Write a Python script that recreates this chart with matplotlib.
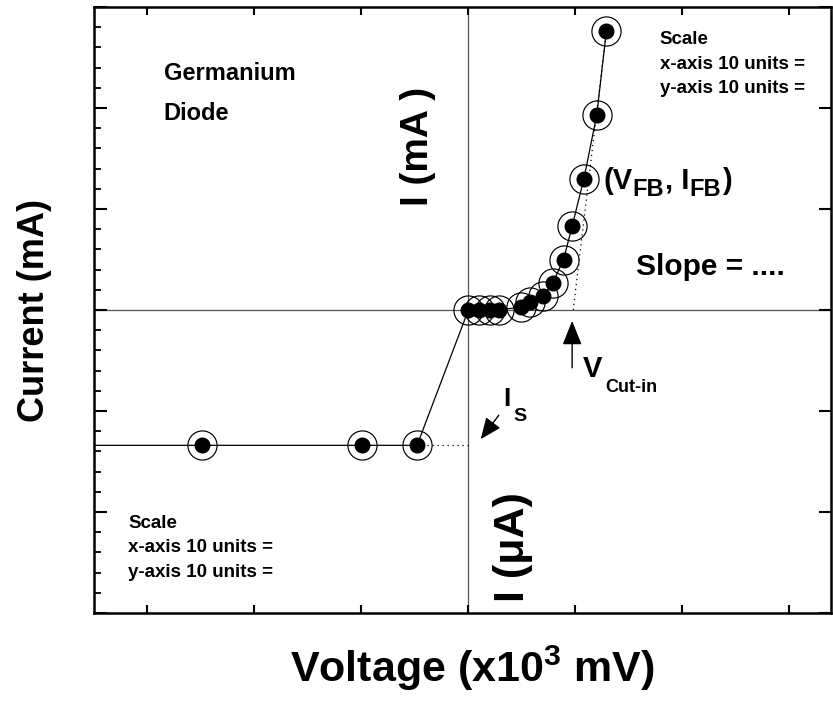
import matplotlib
matplotlib.use("Agg")
import matplotlib.pyplot as plt
import matplotlib.transforms as mtransforms
import numpy as np

# Data (Voltage in x10^3 mV units, Current in scaled units)
rev_v = [-2.49, -0.99, -0.48]
rev_i = [-1.34, -1.34, -1.34]
fwd_v = [0.0, 0.10, 0.20, 0.29, 0.49, 0.58, 0.70, 0.79, 0.89, 0.97, 1.08, 1.20, 1.29]
fwd_i = [0.0, 0.0, 0.0, 0.0, 0.03, 0.08, 0.14, 0.27, 0.50, 0.83, 1.30, 1.93, 2.76]
tangent_v = [0.98, 1.29]
tangent_i = [0.0, 2.76]
x_ticks = [-3, -2, -1, 0, 1, 2, 3]
y_ticks = [-3, -2, -1, 0, 1, 2, 3]
scale_lines = ['Scale', 'x-axis 10 units =', 'y-axis 10 units =']

plt.rcParams['font.family'] = ['Liberation Sans', 'DejaVu Sans']
plt.rcParams['font.weight'] = 'bold'
plt.rcParams['mathtext.fontset'] = 'custom'
plt.rcParams['mathtext.rm'] = 'Liberation Sans:bold'
plt.rcParams['mathtext.bf'] = 'Liberation Sans:bold'
plt.rcParams['mathtext.it'] = 'Liberation Sans:bold'
plt.rcParams['mathtext.default'] = 'rm'

fig = plt.figure(figsize=(8.33, 7.04), dpi=100)
ax = fig.add_axes([94/833, 1-613/704, (831-94)/833, (613-7)/704])
xmin, xmax = -3.5, 3.39
ax.set_xlim(xmin, xmax)
ax.set_ylim(-3, 3)

# zero lines
ax.axhline(0, color='#555555', lw=0.9, zorder=1)
ax.axvline(0, color='#555555', lw=0.9, zorder=1)

# connecting line
all_v = [xmin] + rev_v + fwd_v
all_i = [rev_i[0]] + rev_i + fwd_i
ax.plot(all_v, all_i, color='black', lw=0.9, zorder=2)
# dotted guides
ax.plot([rev_v[-1], 0], [rev_i[-1], rev_i[-1]], color='black', lw=0.9, ls=(0, (1, 3)), zorder=2)
ax.plot(tangent_v, tangent_i, color='black', lw=0.9, ls=(0, (1, 3)), zorder=2)

pts_v = rev_v + fwd_v
pts_i = rev_i + fwd_i
ax.plot(pts_v, pts_i, ls='none', marker='o', ms=21, mfc='none', mec='black', mew=0.85, zorder=3)
ax.plot(pts_v, pts_i, ls='none', marker='o', ms=10.5, mfc='black', mec='black', zorder=4)

# ticks
ax.set_xticks(x_ticks)
ax.set_yticks(y_ticks)
ax.set_yticks(np.arange(-3, 3.01, 0.2), minor=True)
ax.tick_params(axis='x', which='major', direction='in', top=True, bottom=True, length=6, width=1.5,
               labelbottom=False)
ax.tick_params(axis='y', which='major', direction='in', left=True, right=True, length=9, width=1.5,
               labelleft=False)
ax.tick_params(axis='y', which='minor', direction='in', left=True, right=False, length=5, width=1.3)
for s in ax.spines.values():
    s.set_linewidth(1.8)

fig.canvas.draw()
renderer = fig.canvas.get_renderer()


def chain_text(x, y, pieces, gap=0.0):
    """Place text pieces one after another starting at data (x, y) baseline."""
    dx = 0.0
    for txt, size, dy in pieces:
        tr = ax.transData + mtransforms.ScaledTranslation(dx / fig.dpi, dy / 72.0, fig.dpi_scale_trans)
        t = ax.text(x, y, txt, fontsize=size, fontweight='bold', va='baseline', ha='left', transform=tr)
        dx += t.get_window_extent(renderer).width + gap


# texts
ax.text(-2.85, 2.34, 'Germanium', fontsize=17, fontweight='bold', va='center', ha='left')
ax.text(-2.85, 1.95, 'Diode', fontsize=17, fontweight='bold', va='center', ha='left')
ax.text(-0.47, 1.62, 'I (mA )', fontsize=28, fontweight='bold', rotation=90, va='center', ha='center')
ax.text(0.42, -2.35, 'I (μA)', fontsize=31, fontweight='bold', rotation=90, va='center', ha='center')
chain_text(1.26, 1.20, [('(V', 21, 0), ('FB', 17, -5), (', I', 21, 0), ('FB', 17, -5), (')', 21, 0)],
           gap=0.5)
ax.text(1.57, 0.43, 'Slope = ....', fontsize=21.5, fontweight='bold', va='center', ha='left')
ax.text(1.07, -0.58, 'V', fontsize=21, fontweight='bold', va='center', ha='left')
ax.text(1.28, -0.77, 'Cut-in', fontsize=13, fontweight='bold', va='center', ha='left')
ax.annotate('', xy=(0.97, -0.08), xytext=(0.97, -0.60),
            arrowprops=dict(arrowstyle='-|>,head_length=1.5,head_width=0.6', color='black', lw=1.0))
ax.text(0.33, -0.88, 'I', fontsize=19, fontweight='bold', va='center', ha='left')
ax.text(0.42, -1.05, 'S', fontsize=14, fontweight='bold', va='center', ha='left')
ax.annotate('', xy=(0.10, -1.30), xytext=(0.30, -1.02),
            arrowprops=dict(arrowstyle='-|>,head_length=1.3,head_width=0.55', color='black', lw=1.0))

for k, t in enumerate(scale_lines):
    ax.text(1.79, 2.68 - 0.245 * k, t, fontsize=13.5, fontweight='bold', va='center', ha='left')
    ax.text(-3.18, -2.11 - 0.245 * k, t, fontsize=13.5, fontweight='bold', va='center', ha='left')

fig.text(35/833, 1-310/704, 'Current (mA)', fontsize=26, fontweight='bold', rotation=90,
         va='center', ha='center')
fig.text(472/833, 1-668/704, 'Voltage (x10$^{3}$ mV)', fontsize=31, fontweight='bold',
         va='center', ha='center')

fig.savefig('out.png', dpi=100)
